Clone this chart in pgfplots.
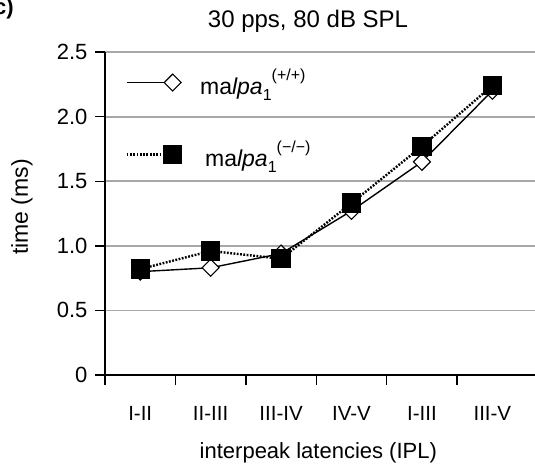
\documentclass[border=0pt]{standalone}
\usepackage{fontspec}
\setmainfont{Liberation Sans}
\usepackage{pgfplots}
\pgfplotsset{compat=1.18}
\definecolor{gridgray}{HTML}{A8A8A8}
\newcommand{\gene}[1]{ma\textit{lpa}\raisebox{-0.28em}{\fontsize{16}{16}\selectfont 1}\raisebox{0.6em}{\fontsize{16}{16}\selectfont #1}}

\begin{document}
\begin{tikzpicture}
  \begin{axis}[
    scale only axis, width=431pt, height=323pt,
    at={(105pt,-375pt)}, anchor=south west,
    xmin=-0.5, xmax=5.62, ymin=0, ymax=2.5,
    axis x line=bottom, axis y line=left,
    axis line style={-, line width=1.6pt, black},
    xtick={0,...,5},
    xticklabels={I-II, II-III, III-IV, IV-V, I-III, III-V},
    minor xtick={-0.5,0.5,1.5,2.5,3.5,4.5},
    ytick={0,0.5,1,1.5,2,2.5},
    yticklabels={0,0.5,1.0,1.5,2.0,2.5},
    tick align=outside,
    major tick length=10pt, minor tick length=10pt,
    x tick style={draw=none},
    minor x tick style={draw=black, line width=1.4pt},
    y tick style={black, line width=1.4pt},
    ymajorgrids, grid style={gridgray, line width=1.8pt},
    xticklabel style={font=\fontsize{20.5}{22}\selectfont, yshift=-18pt},
    yticklabel style={font=\fontsize{22}{24}\selectfont, xshift=-4pt},
    /pgf/number format/assume math mode=true,
    xlabel={interpeak latencies (IPL)},
    xlabel style={font=\fontsize{22}{24}\selectfont, at={(axis description cs:0.495,-0.24)}, anchor=center},
    ylabel={time (ms)},
    ylabel style={font=\fontsize{23}{25}\selectfont, at={(axis description cs:-0.193,0.52)}, anchor=center},
    legend style={draw=none, fill=none, at={(axis description cs:0.04,0.96)}, anchor=north west,
      font=\fontsize{23}{25}\selectfont, row sep=41pt,
      /tikz/every even column/.append style={column sep=0pt}},
    legend cell align=left,
    legend image code/.code={\draw[mark repeat=2, mark phase=2] plot coordinates {(0pt,0pt) (46pt,0pt)};},
    clip=false,
  ]
    \addplot[black, line width=1.4pt, mark=square*, mark size=6pt,
      mark options={solid, fill=white, draw=black, rotate=45, line width=1.1pt}]
      coordinates {(0,0.80) (1,0.83) (2,0.94) (3,1.27) (4,1.65) (5,2.20)};
    \addplot[black, line width=2.4pt, dash pattern=on 1.8pt off 1.5pt, mark=square*, mark size=8.5pt,
      mark options={solid, fill=black, draw=black}]
      coordinates {(0,0.82) (1,0.96) (2,0.90) (3,1.33) (4,1.77) (5,2.24)};
    \legend{\hspace{17pt}\gene{(+/+)}, \hspace{22pt}\gene{(\textminus/\textminus)}}
  \end{axis}
  \node[font=\fontsize{24}{26}\selectfont] at (308pt,-21pt) {30 pps, 80 dB SPL};
  \node[font=\bfseries\fontsize{22}{24}\selectfont, anchor=base east, inner sep=0pt] at (14pt,-14pt) {(c)};
  \pgfresetboundingbox
  \path (0pt,0pt) rectangle (535pt,-467pt);
\end{tikzpicture}
\end{document}
